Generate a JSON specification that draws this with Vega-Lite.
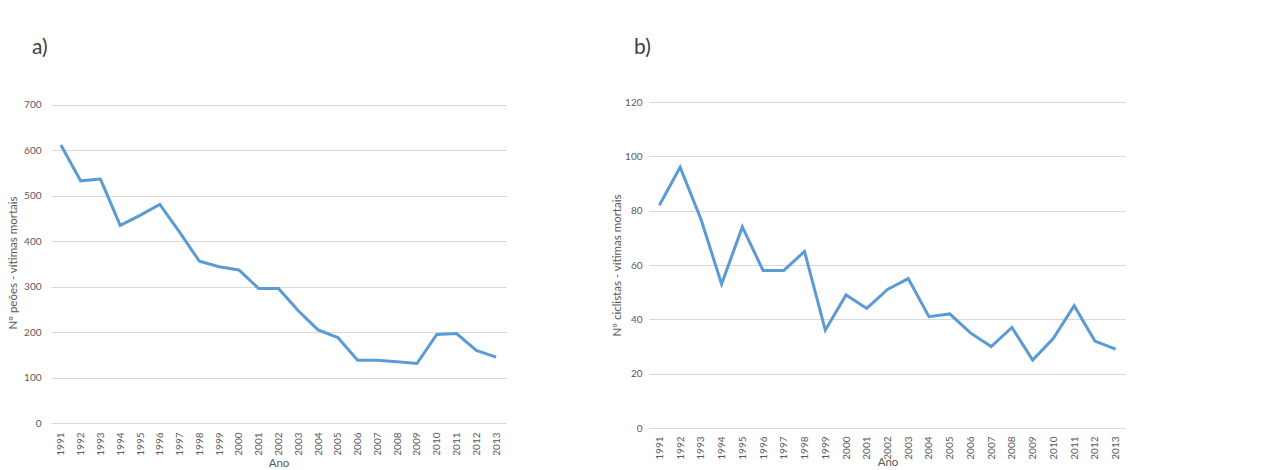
{
  "$schema": "https://vega.github.io/schema/vega-lite/v6.json",
  "background": "white",
  "padding": {"left": 7, "top": 36, "right": 0, "bottom": 0},
  "autosize": {"type": "pad"},
  "spacing": 143,
  "bounds": "flush",
  "config": {
    "font": "Lato",
    "view": {"stroke": null},
    "axis": {
      "labelColor": "#595959",
      "titleColor": "#595959",
      "labelFont": "Lato",
      "titleFont": "Lato",
      "labelFontSize": 10,
      "titleFontSize": 11.5,
      "titleFontWeight": "normal",
      "gridColor": "#d9d9d9",
      "gridWidth": 1,
      "ticks": false,
      "domain": false
    },
    "title": {"color": "#404040", "fontSize": 21, "fontWeight": "normal", "font": "Lato", "anchor": "start", "frame": "group"}
  },
  "datasets": {
    "peoes": [
      {"ano": "1991", "v": 612}, {"ano": "1992", "v": 533}, {"ano": "1993", "v": 537},
      {"ano": "1994", "v": 435}, {"ano": "1995", "v": 457}, {"ano": "1996", "v": 481},
      {"ano": "1997", "v": 420}, {"ano": "1998", "v": 356}, {"ano": "1999", "v": 344},
      {"ano": "2000", "v": 337}, {"ano": "2001", "v": 296}, {"ano": "2002", "v": 296},
      {"ano": "2003", "v": 247}, {"ano": "2004", "v": 205}, {"ano": "2005", "v": 188},
      {"ano": "2006", "v": 138}, {"ano": "2007", "v": 138}, {"ano": "2008", "v": 135},
      {"ano": "2009", "v": 131}, {"ano": "2010", "v": 195}, {"ano": "2011", "v": 197},
      {"ano": "2012", "v": 160}, {"ano": "2013", "v": 145}
    ],
    "ciclistas": [
      {"ano": "1991", "v": 82}, {"ano": "1992", "v": 96}, {"ano": "1993", "v": 77},
      {"ano": "1994", "v": 53}, {"ano": "1995", "v": 74}, {"ano": "1996", "v": 58},
      {"ano": "1997", "v": 58}, {"ano": "1998", "v": 65}, {"ano": "1999", "v": 36},
      {"ano": "2000", "v": 49}, {"ano": "2001", "v": 44}, {"ano": "2002", "v": 51},
      {"ano": "2003", "v": 55}, {"ano": "2004", "v": 41}, {"ano": "2005", "v": 42},
      {"ano": "2006", "v": 35}, {"ano": "2007", "v": 30}, {"ano": "2008", "v": 37},
      {"ano": "2009", "v": 25}, {"ano": "2010", "v": 33}, {"ano": "2011", "v": 45},
      {"ano": "2012", "v": 32}, {"ano": "2013", "v": 29}
    ]
  },
  "hconcat": [
    {
      "title": {"text": "a)", "dx": -19, "offset": 42},
      "width": 455,
      "height": 321,
      "data": {"name": "peoes"},
      "mark": {"type": "line", "color": "#5b9bd5", "strokeWidth": 3, "strokeJoin": "miter"},
      "encoding": {
        "x": {"field": "ano", "type": "ordinal", "title": "Ano",
              "axis": {"labelAngle": 270, "labelPadding": 9, "titlePadding": 2, "grid": false}},
        "y": {"field": "v", "type": "quantitative", "title": "Nº peões - vítimas mortais",
              "scale": {"domain": [0, 706.6], "nice": false},
              "axis": {"values": [0, 100, 200, 300, 400, 500, 600, 700], "labelPadding": 10, "titlePadding": 5}}
      }
    },
    {
      "title": {"text": "b)", "dx": -15, "offset": 39},
      "width": 477,
      "height": 326,
      "data": {"name": "ciclistas"},
      "mark": {"type": "line", "color": "#5b9bd5", "strokeWidth": 3, "strokeJoin": "miter"},
      "encoding": {
        "x": {"field": "ano", "type": "ordinal", "title": "Ano",
              "axis": {"labelAngle": 270, "labelPadding": 8, "titlePadding": -3, "grid": false}},
        "y": {"field": "v", "type": "quantitative", "title": "Nº ciclistas - vítimas mortais",
              "scale": {"domain": [0, 120], "nice": false},
              "axis": {"values": [0, 20, 40, 60, 80, 100, 120], "labelPadding": 7, "titlePadding": 2}}
      }
    }
  ]
}
